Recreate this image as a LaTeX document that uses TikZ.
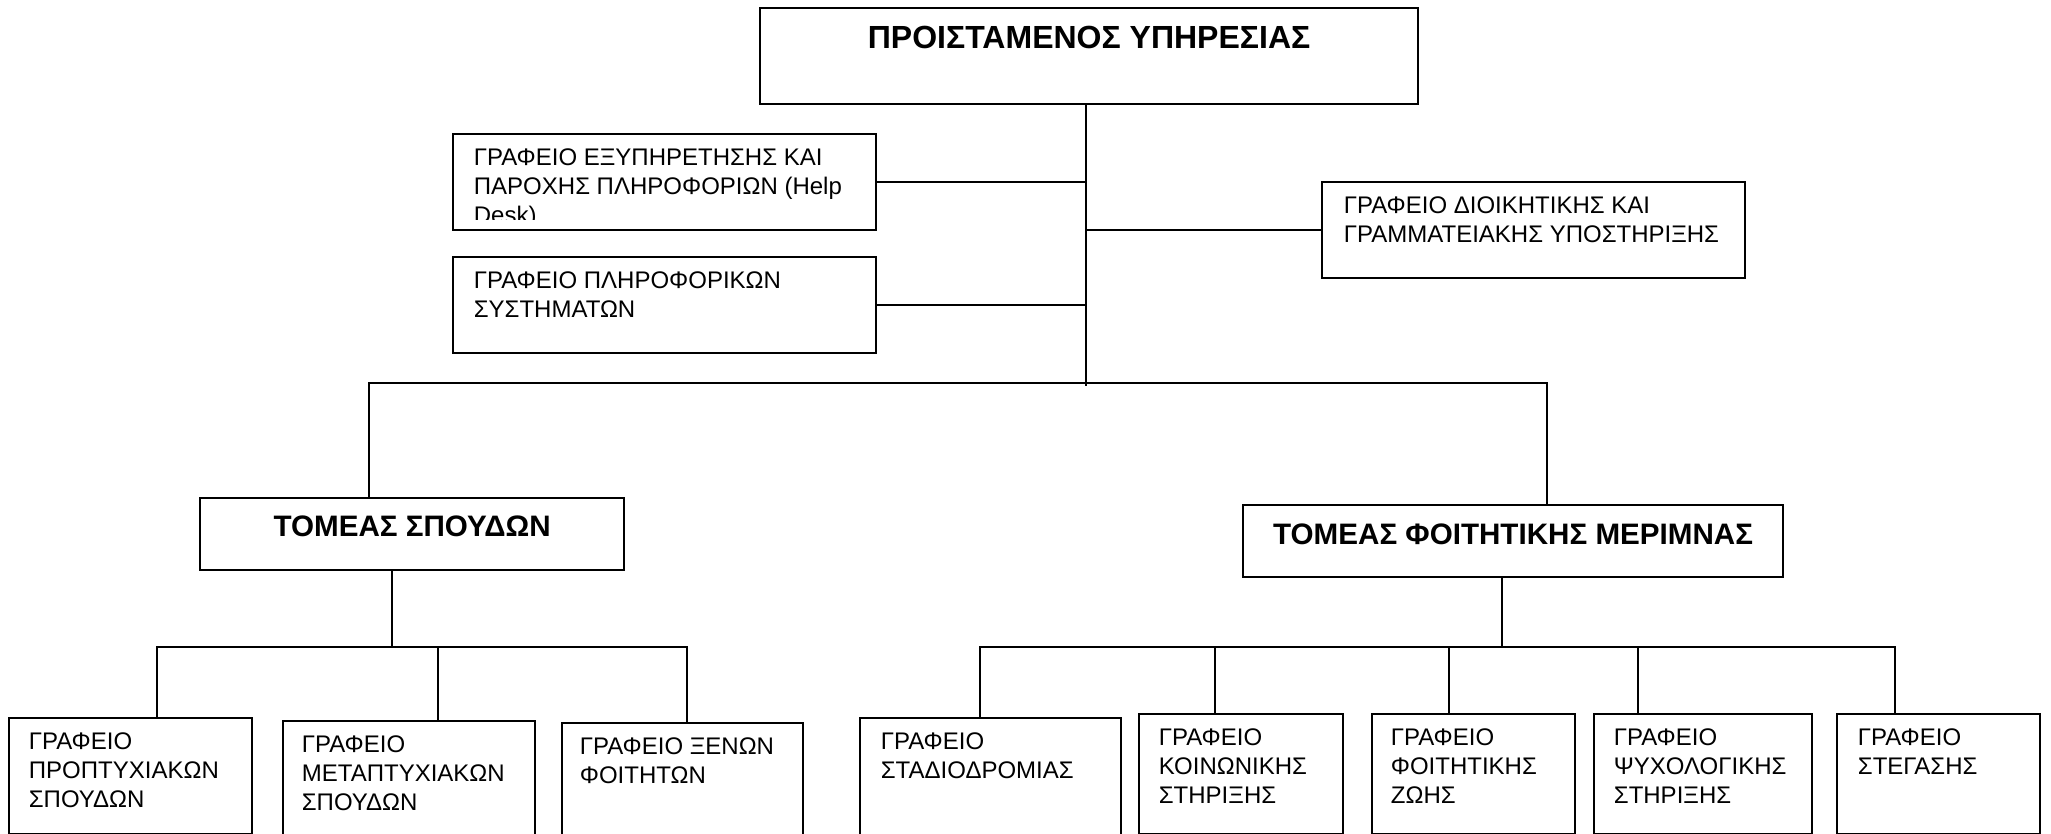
\documentclass[tikz,border=0pt]{standalone}
\usepackage{fontspec}
\setmainfont{Liberation Sans}

\tikzset{every picture/.style={line width=0.9pt}}
\tikzset{
  unit/.style={draw, line width=1.1pt, rectangle, anchor=north west, inner sep=0pt},
  unittext/.style={anchor=north west, inner sep=0pt, align=left, font=\fontsize{12}{14.5}\selectfont},
  headtext/.style={anchor=north, inner sep=0pt, font=\bfseries\fontsize{14.8}{17}\selectfont},
}

\begin{document}
\begin{tikzpicture}[x=0.5pt,y=0.5pt,yscale=-1,xscale=1]
\useasboundingbox (0,0) rectangle (2051,834);
\clip (0,0) rectangle (2051,834);

%Shape: Rectangle [proistamenos]
\node[unit, minimum width=329pt, minimum height=48pt] (proist) at (759,7) {};
%Shape: Rectangle [help desk]
\node[unit, minimum width=211.5pt, minimum height=48pt] (help) at (452,133) {};
%Shape: Rectangle [pliroforiki]
\node[unit, minimum width=211.5pt, minimum height=48pt] (pliro) at (452,256) {};
%Shape: Rectangle [dioikitiki]
\node[unit, minimum width=211.5pt, minimum height=48pt] (dioik) at (1321,181) {};
%Shape: Rectangle [tomeas spoudon]
\node[unit, minimum width=212pt, minimum height=36pt] (spoud) at (199,497) {};
%Shape: Rectangle [tomeas merimnas]
\node[unit, minimum width=270pt, minimum height=36pt] (fmer) at (1242,504) {};
%Shape: Rectangle [bottom row]
\node[unit, minimum width=121.5pt, minimum height=58pt] (propt) at (8,717) {};
\node[unit, minimum width=126pt, minimum height=60pt] (metapt) at (282,720) {};
\node[unit, minimum width=120.5pt, minimum height=60pt] (xenon) at (561,722) {};
\node[unit, minimum width=130.5pt, minimum height=62pt] (stadio) at (859,717) {};
\node[unit, minimum width=102pt, minimum height=60pt] (koin) at (1138,713) {};
\node[unit, minimum width=101.5pt, minimum height=60pt] (zoi) at (1371,713) {};
\node[unit, minimum width=109pt, minimum height=60pt] (psych) at (1593,713) {};
\node[unit, minimum width=101.5pt, minimum height=60pt] (steg) at (1836,713) {};

%Straight Lines [upper trunk]
\coordinate (hub) at (1086,386);
\draw (hub |- proist.south) -- (hub);
\draw (help.east) -- (help.east -| hub);
\draw (pliro.east) -- (pliro.east -| hub);
\draw (dioik.west) -- (dioik.west -| hub);
%Straight Lines [bus to sectors]
\coordinate (busL) at (369,383);
\coordinate (busR) at (1547,383);
\draw (busL |- spoud.north) -- (busL) -- (busR) -- (busR |- fmer.north);
%Straight Lines [spoudon offices]
\coordinate (subL) at (392,647);
\coordinate (dL1) at (157,647);
\coordinate (dL2) at (438,647);
\coordinate (dL3) at (687,647);
\draw (subL |- spoud.south) -- (subL);
\draw (dL1 |- propt.north) -- (dL1) -- (dL3) -- (dL3 |- xenon.north);
\draw (dL2) -- (dL2 |- metapt.north);
%Straight Lines [merimnas offices]
\coordinate (subR) at (1502,647);
\coordinate (dR1) at (980,647);
\coordinate (dR2) at (1215,647);
\coordinate (dR3) at (1449,647);
\coordinate (dR4) at (1638,647);
\coordinate (dR5) at (1895,647);
\draw (subR |- fmer.south) -- (subR);
\draw (dR1 |- stadio.north) -- (dR1) -- (dR5) -- (dR5 |- steg.north);
\draw (dR2) -- (dR2 |- koin.north);
\draw (dR3) -- (dR3 |- zoi.north);
\draw (dR4) -- (dR4 |- psych.north);

% Text Node
\node[headtext, font=\bfseries\fontsize{16}{19}\selectfont] (proist-t) at ([shift={(0,18)}]proist.north) {ΠΡΟΙΣΤΑΜΕΝΟΣ ΥΠΗΡΕΣΙΑΣ};
% Text Node
\begin{scope}
\clip (help.north west) rectangle ([shift={(0,-12)}]help.south east);
\node[unittext] (help-t) at ([shift={(21,15)}]help.north west) {ΓΡΑΦΕΙΟ ΕΞΥΠΗΡΕΤΗΣΗΣ ΚΑΙ\\ΠΑΡΟΧΗΣ ΠΛΗΡΟΦΟΡΙΩΝ (Help\\Desk)};
\end{scope}
% Text Node
\node[unittext] (pliro-t) at ([shift={(21,15)}]pliro.north west) {ΓΡΑΦΕΙΟ ΠΛΗΡΟΦΟΡΙΚΩΝ\\ΣΥΣΤΗΜΑΤΩΝ};
% Text Node
\node[unittext] (dioik-t) at ([shift={(22,15)}]dioik.north west) {ΓΡΑΦΕΙΟ ΔΙΟΙΚΗΤΙΚΗΣ ΚΑΙ\\ΓΡΑΜΜΑΤΕΙΑΚΗΣ ΥΠΟΣΤΗΡΙΞΗΣ};
% Text Node
\node[headtext] (spoud-t) at ([shift={(0,18)}]spoud.north) {ΤΟΜΕΑΣ ΣΠΟΥΔΩΝ};
% Text Node
\node[headtext] (fmer-t) at ([shift={(0,19)}]fmer.north) {ΤΟΜΕΑΣ ΦΟΙΤΗΤΙΚΗΣ ΜΕΡΙΜΝΑΣ};
% Text Node
\node[unittext] (propt-t) at ([shift={(20,15)}]propt.north west) {ΓΡΑΦΕΙΟ\\ΠΡΟΠΤΥΧΙΑΚΩΝ\\ΣΠΟΥΔΩΝ};
% Text Node
\node[unittext] (metapt-t) at ([shift={(19,15)}]metapt.north west) {ΓΡΑΦΕΙΟ\\ΜΕΤΑΠΤΥΧΙΑΚΩΝ\\ΣΠΟΥΔΩΝ};
% Text Node
\node[unittext] (xenon-t) at ([shift={(18,15)}]xenon.north west) {ΓΡΑΦΕΙΟ ΞΕΝΩΝ\\ΦΟΙΤΗΤΩΝ};
% Text Node
\node[unittext] (stadio-t) at ([shift={(21,15)}]stadio.north west) {ΓΡΑΦΕΙΟ\\ΣΤΑΔΙΟΔΡΟΜΙΑΣ};
% Text Node
\node[unittext] (koin-t) at ([shift={(20,15)}]koin.north west) {ΓΡΑΦΕΙΟ\\ΚΟΙΝΩΝΙΚΗΣ\\ΣΤΗΡΙΞΗΣ};
% Text Node
\node[unittext] (zoi-t) at ([shift={(19,15)}]zoi.north west) {ΓΡΑΦΕΙΟ\\ΦΟΙΤΗΤΙΚΗΣ\\ΖΩΗΣ};
% Text Node
\node[unittext] (psych-t) at ([shift={(20,15)}]psych.north west) {ΓΡΑΦΕΙΟ\\ΨΥΧΟΛΟΓΙΚΗΣ\\ΣΤΗΡΙΞΗΣ};
% Text Node
\node[unittext] (steg-t) at ([shift={(21,15)}]steg.north west) {ΓΡΑΦΕΙΟ\\ΣΤΕΓΑΣΗΣ};

\end{tikzpicture}
\end{document}
